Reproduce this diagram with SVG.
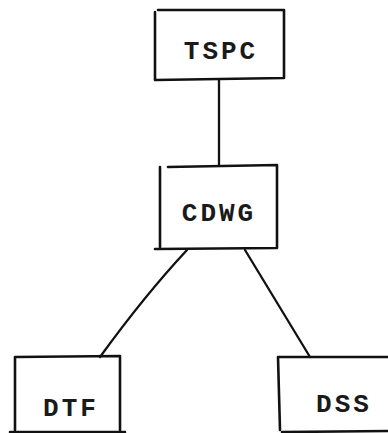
<svg xmlns="http://www.w3.org/2000/svg" width="388" height="433" viewBox="0 0 388 433">
<style>
.box{fill:none;stroke:#111;stroke-width:2.6;stroke-linecap:round;stroke-linejoin:round}
.lbl{font-family:"Liberation Mono","DejaVu Sans Mono",monospace;font-size:26px;font-weight:bold;fill:#1a1a1a;text-anchor:middle;letter-spacing:3px}
.edge{fill:none;stroke:#111;stroke-width:2.3;stroke-linecap:round}
</style>
<rect width="388" height="433" fill="#fff"/>
<g id="connectors">
<path class="edge" d="M219,80 L219,165"/>
<path class="edge" d="M187,250 Q145,295 100,357"/>
<path class="edge" d="M245,250 L310,357"/>
</g>
<g id="TSPC">
<path class="box" d="M155,12 L155,80 L284,78 L284,10 L158,10"/>
<text class="lbl" x="221" y="59">TSPC</text>
</g>
<g id="CDWG">
<path class="box" d="M160,167 L160,247 M155,249 L277,248 L277,165 L168,167"/>
<text class="lbl" x="219" y="221">CDWG</text>
</g>
<g id="DTF">
<path class="box" d="M15,430 L15,357 L120,356 L120,430 M10,432 L125,432"/>
<text class="lbl" x="71" y="416">DTF</text>
</g>
<g id="DSS">
<path class="box" d="M280,430 L278,357 L390,357 M282,432 L390,431"/>
<text class="lbl" x="344" y="412">DSS</text>
</g>
</svg>
